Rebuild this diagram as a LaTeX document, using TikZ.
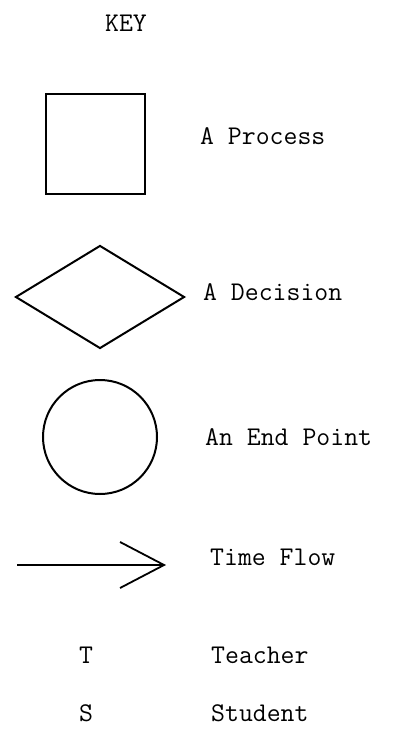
\documentclass[tikz,border=0pt]{standalone}
\usetikzlibrary{shapes.geometric, arrows.meta}

\begin{document}
\begin{tikzpicture}[x=1pt, y=-1pt,
    keytext/.style={font=\fontsize{27}{30}\selectfont\ttfamily, inner sep=0pt},
    keyshape/.style={draw, line width=2pt, inner sep=0pt}]
  \useasboundingbox (0,0) rectangle (403,738);

  \node[keytext] (key) at (126,23) {KEY};

  % symbols
  \node[keyshape, rectangle, minimum size=99pt] (proc) at (95,144) {};
  \node[keyshape, diamond, minimum width=169pt, minimum height=103pt] (dec) at (100,297) {};
  \node[keyshape, circle, minimum size=114pt] (endpt) at (100,437) {};
  \coordinate (tail) at (17,565);
  \coordinate (head) at (166,565);
  \draw[line width=1.8pt, -{Straight Barb[length=44pt, width=46pt]}] (tail) -- (head);
  \node[keytext] (tchr) at (86,655) {T};
  \node[keytext] (stdt) at (86,713) {S};

  % meanings
  \foreach \x/\y/\name/\txt in {
    200/136/lproc/A Process, 203/292/ldec/A Decision, 205/437/lend/An End Point,
    210/557/lflow/Time Flow, 211/655/ltchr/Teacher, 211/713/lstdt/Student}
  {
    \node[keytext, anchor=west] (\name) at (\x,\y) {\txt};
  }
\end{tikzpicture}
\end{document}
